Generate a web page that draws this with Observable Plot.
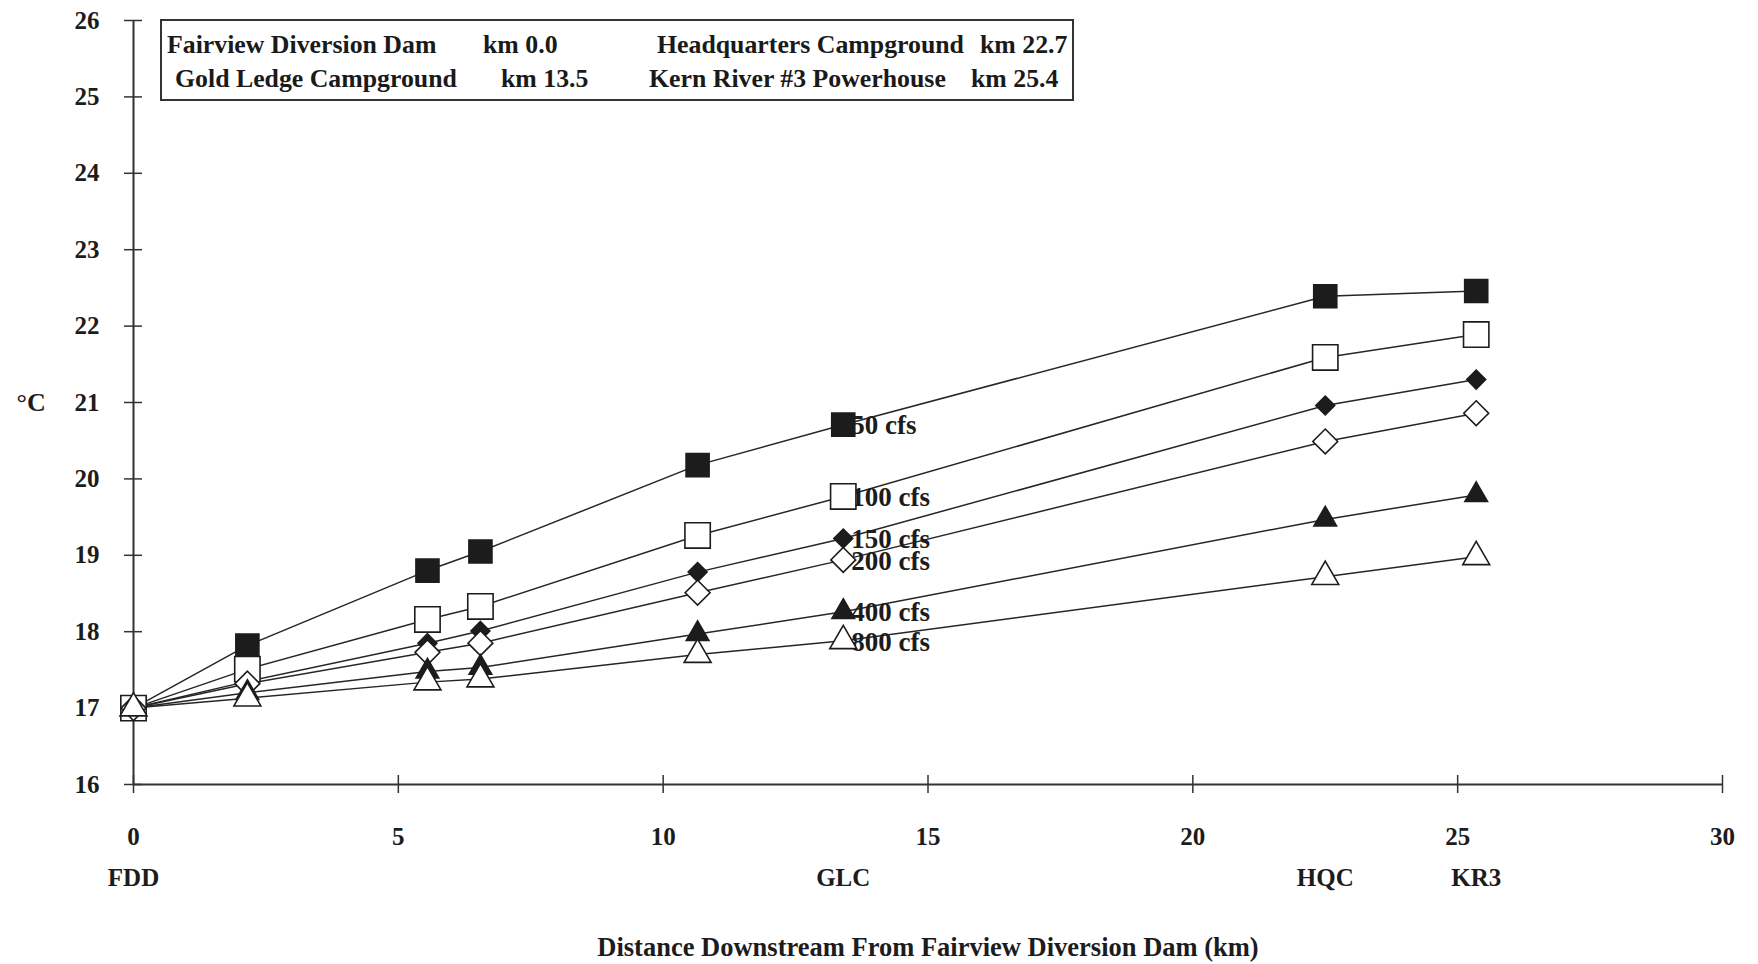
<!DOCTYPE html>
<html>
<head>
<meta charset="utf-8">
<script src="https://cdn.jsdelivr.net/npm/d3@7"></script>
<script src="https://cdn.jsdelivr.net/npm/@observablehq/plot@0.6"></script>
<style>
  body { margin: 0; background: #fff; }
  #wrap { position: relative; width: 1758px; height: 964px; background: #fff; }
  #legend { position: absolute; left: 160px; top: 19px; width: 914px; height: 82px; box-sizing: border-box;
            border: 2px solid #333; font-family: "Liberation Serif", serif; font-weight: bold; font-size: 25.8px; color: #1a1a1a; }
  #legend span { position: absolute; white-space: pre; line-height: 1; }
</style>
</head>
<body>
<div id="wrap"><div id="legend"></div></div>
<script>
// ---- data ----
const km = [0, 2.15, 5.55, 6.55, 10.65, 13.4, 22.5, 25.35];
const flows = ["50 cfs", "100 cfs", "150 cfs", "200 cfs", "400 cfs", "800 cfs"];
const temp50  = [17.0, 17.82, 18.80, 19.05, 20.18, 20.71, 22.39, 22.46];
const temp100 = [17.0, 17.51, 18.16, 18.33, 19.26, 19.77, 21.59, 21.89];
const temp150 = [17.0, 17.35, 17.85, 18.01, 18.78, 19.22, 20.96, 21.30];
const temp200 = [17.0, 17.32, 17.73, 17.85, 18.51, 18.94, 20.49, 20.86];
const temp400 = [17.0, 17.20, 17.48, 17.53, 17.97, 18.26, 19.47, 19.79];
const temp800 = [17.0, 17.13, 17.34, 17.38, 17.70, 17.88, 18.72, 18.98];
const yTicks = [16, 17, 18, 19, 20, 21, 22, 23, 24, 25, 26];
const xTicks = [0, 5, 10, 15, 20, 25, 30];
const siteCodes = ["FDD", "GLC", "HQC", "KR3"];
const siteCodeKm = [0, 13.4, 22.5, 25.35];
const siteNames = ["Fairview Diversion Dam", "Gold Ledge Campground", "Headquarters Campground", "Kern River #3 Powerhouse"];
const siteKmText = ["km 0.0", "km 13.5", "km 22.7", "km 25.4"];
const xTitle = "Distance Downstream From Fairview Diversion Dam (km)";
const yTitle = "°C";

// ---- build table ----
const temps = [temp50, temp100, temp150, temp200, temp400, temp800];
const rows = flows.flatMap((f, i) => km.map((k, j) => ({flow: f, km: k, temp: temps[i][j]})));

const ink = "#1c1c1c";
const markerStyle = {
  "50 cfs":  {symbol: "square",   fill: ink,    r: 13},
  "100 cfs": {symbol: "square",   fill: "#fff", r: 14.3},
  "150 cfs": {symbol: "diamond2", fill: ink,    r: 8.5},
  "200 cfs": {symbol: "diamond2", fill: "#fff", r: 11.2},
  "400 cfs": {symbol: "triangle", fill: ink,    r: 8.4},
  "800 cfs": {symbol: "triangle", fill: "#fff", r: 10}
};
const font = {fontFamily: "Liberation Serif", fontWeight: "bold", fontSize: 25, fill: ink};

const chart = Plot.plot({
  width: 1758, height: 964,
  marginLeft: 133, marginRight: 36, marginTop: 20, marginBottom: 180,
  x: {domain: [0, 30]},
  y: {domain: [16, 26]},
  style: {fontFamily: "Liberation Serif", fontWeight: "bold", fontSize: "25px", color: ink, background: "#fff"},
  marks: [
    Plot.ruleY([16], {stroke: "#333", strokeWidth: 2}),
    Plot.ruleX([0], {stroke: "#333", strokeWidth: 2}),
    Plot.axisY({ticks: yTicks, anchor: "left", tickSize: 18, dx: 9, tickPadding: 25, label: null,
                stroke: "#333", strokeWidth: 1.5, ...font, tickFormat: d => String(d)}),
    Plot.axisX({ticks: xTicks, anchor: "bottom", tickSize: 18, dy: -9, tickPadding: 34, label: null,
                stroke: "#333", strokeWidth: 1.5, ...font, tickFormat: d => String(d)}),
    Plot.text(siteCodes, {x: (d, i) => siteCodeKm[i], text: d => d, frameAnchor: "bottom", dy: 101, ...font}),
    Plot.text([xTitle], {text: d => d, frameAnchor: "bottom", dy: 171, ...font, fontSize: 26.5}),
    Plot.text([yTitle], {text: d => d, frameAnchor: "left", dx: -117, ...font, fontSize: 26}),
    Plot.line(rows, {x: "km", y: "temp", z: "flow", stroke: "#262626", strokeWidth: 1.5}),
    Plot.text(rows.filter(d => d.km === km[5]), {x: "km", y: "temp", text: "flow", textAnchor: "start", dx: 8, dy: 1, ...font, fontSize: 27}),
    ...flows.map(f => Plot.dot(rows.filter(d => d.flow === f), {
      x: "km", y: "temp", symbol: markerStyle[f].symbol, r: markerStyle[f].r,
      fill: markerStyle[f].fill, stroke: ink, strokeWidth: 1.6
    }))
  ]
});
document.getElementById("wrap").prepend(chart);

// ---- legend box (site list) ----
const legend = document.getElementById("legend");
const legendPos = [
  {name: [5, 11], km: [321, 11]},
  {name: [13, 45], km: [339, 45]},
  {name: [495, 11], km: [818, 11]},
  {name: [487, 45], km: [809, 45]}
];
siteNames.forEach((n, i) => {
  const a = document.createElement("span");
  a.textContent = n; a.style.left = legendPos[i].name[0] + "px"; a.style.top = legendPos[i].name[1] + "px";
  const b = document.createElement("span");
  b.textContent = siteKmText[i]; b.style.left = legendPos[i].km[0] + "px"; b.style.top = legendPos[i].km[1] + "px";
  legend.append(a, b);
});
</script>
</body>
</html>
